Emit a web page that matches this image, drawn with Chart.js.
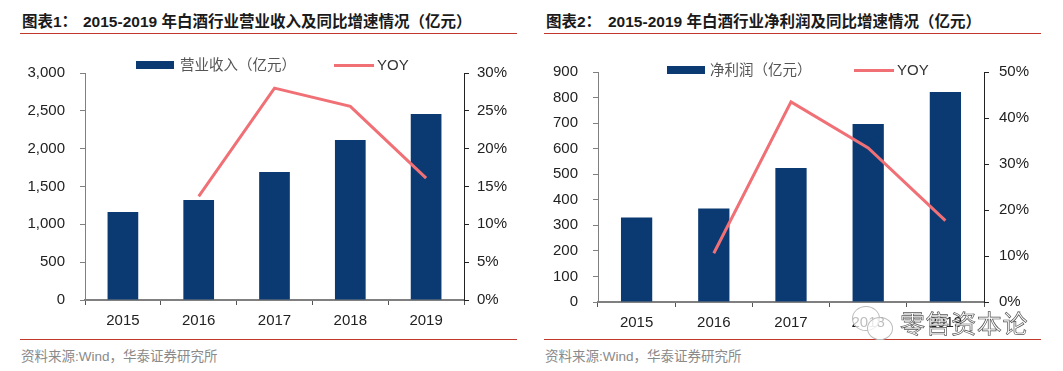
<!DOCTYPE html>
<html lang="zh">
<head>
<meta charset="UTF-8">
<title>白酒行业营业收入及净利润</title>
<script src="https://cdn.jsdelivr.net/npm/chart.js"></script>
<style>
  html, body { margin: 0; padding: 0; background: #fff; }
  body { width: 1063px; height: 371px; position: relative; overflow: hidden;
         font-family: "Liberation Sans", "Noto Sans CJK SC", sans-serif; }
  canvas { position: absolute; }
  .t { position: absolute; white-space: nowrap; }
  .title { font-size: 15.5px; font-weight: bold; color: #1a1a1a; top: 13px; line-height: 18px; }
  .rule { position: absolute; height: 1px; background: #c0392b; }
  .src { font-size: 13.5px; color: #8a8a8a; top: 349px; line-height: 16px; }
  .leg { font-size: 14.5px; color: #555; line-height: 16px; }
  .yoy { font-size: 15px; color: #333; line-height: 16px; }
  .swatch { position: absolute; height: 8px; width: 38px; background: #0b3a72; }
  .stroke { position: absolute; height: 3px; width: 40px; background: #f07076; }
  .mark { font-size: 25px; top: 309px; line-height: 30px; color: rgba(255,255,255,.8); -webkit-text-stroke: .7px #555; letter-spacing: .6px; }
  .bubble { position: absolute; border: 1px solid #bbb; border-radius: 50%; background: rgba(255,255,255,.7); }
</style>
</head>
<body>
<div class="t title" style="left:22px">图表1：</div>
<div class="t title" style="left:83px">2015-2019 年白酒行业营业收入及同比增速情况（亿元）</div>
<div class="rule" style="left:20px;width:497px;top:33px"></div>
<div class="t title" style="left:546px">图表2：</div>
<div class="t title" style="left:608px">2015-2019 年白酒行业净利润及同比增速情况（亿元）</div>
<div class="rule" style="left:544px;width:497px;top:33px"></div>

<canvas id="c1"></canvas>
<canvas id="c2"></canvas>

<div class="swatch" style="left:136px;top:61px"></div>
<div class="t leg" style="left:180px;top:57px">营业收入（亿元）</div>
<div class="stroke" style="left:334px;top:64px"></div>
<div class="t yoy" style="left:377px;top:57px">YOY</div>

<div class="swatch" style="left:667px;top:66px"></div>
<div class="t leg" style="left:710px;top:62px">净利润（亿元）</div>
<div class="stroke" style="left:854px;top:69px"></div>
<div class="t yoy" style="left:897px;top:62px">YOY</div>

<div class="rule" style="left:20px;width:497px;top:339px"></div>
<div class="rule" style="left:544px;width:497px;top:339px"></div>
<div class="t src" style="left:21px">资料来源:Wind，华泰证券研究所</div>
<div class="t src" style="left:545px">资料来源:Wind，华泰证券研究所</div>

<div class="bubble" style="left:852px;top:306px;width:26px;height:23px"></div>
<div class="bubble" style="left:867px;top:317px;width:24px;height:21px"></div>
<div class="t mark" style="left:900px">零售资本论</div>

<script>
const years = ['2015', '2016', '2017', '2018', '2019'];
const revenue = [1163, 1320, 1690, 2115, 2458];
const revenueYoy = [null, 13.7, 28.0, 25.6, 16.1];
const revenueTicks = [0, 500, 1000, 1500, 2000, 2500, 3000];
const profit = [331, 366, 524, 697, 822];
const profitYoy = [null, 10.6, 43.5, 33.5, 17.7];
const profitTicks = [0, 100, 200, 300, 400, 500, 600, 700, 800, 900];

const FONT = { family: '"Liberation Sans", sans-serif', size: 15 };

// fija el ancho del eje y quita el margen que añade la última etiqueta
function fijarEje(s, ancho) {
  s.width = ancho;
  s.paddingTop = 0;
  s.paddingBottom = 0;
}

function dibujar(id, caja, barras, yoy, leftMax, leftStep, rightMax, rightStep) {
  const canvas = document.getElementById(id);
  canvas.style.left = caja.left + 'px';
  canvas.style.top = caja.top + 'px';
  canvas.width = caja.width;
  canvas.height = caja.height;
  new Chart(canvas, {
    data: {
      labels: years,
      datasets: [
        { type: 'line', data: yoy, yAxisID: 'y1', borderColor: '#f07076', borderWidth: 3,
          pointRadius: 0, tension: 0, spanGaps: false, order: 0 },
        { type: 'bar', data: barras, yAxisID: 'y', backgroundColor: '#0b3a72',
          barPercentage: 0.405, categoryPercentage: 1, order: 1 }
      ]
    },
    options: {
      responsive: false,
      animation: false,
      layout: { padding: { top: caja.padTop, left: 0, right: 0, bottom: 0 } },
      plugins: { legend: { display: false }, tooltip: { enabled: false } },
      scales: {
        x: {
          offset: true,
          afterFit: s => { s.height = caja.xHeight; },
          grid: { offset: true, drawOnChartArea: false, drawTicks: true, tickLength: 5, color: '#555' },
          border: { color: '#808080', width: 2 },
          ticks: { color: '#222', font: FONT, padding: 7, maxRotation: 0 }
        },
        y: {
          position: 'left', min: 0, max: leftMax,
          afterFit: s => fijarEje(s, caja.leftW),
          grid: { drawOnChartArea: false, tickLength: 5, color: '#808080' },
          border: { color: '#808080', width: 1 },
          ticks: { stepSize: leftStep, color: '#222', font: FONT, padding: 15,
                   callback: v => v.toLocaleString('en-US') }
        },
        y1: {
          position: 'right', min: 0, max: rightMax,
          afterFit: s => fijarEje(s, caja.rightW),
          grid: { drawOnChartArea: false, tickLength: 5, color: '#222' },
          border: { color: '#222', width: 1 },
          ticks: { stepSize: rightStep, color: '#222', font: FONT, padding: caja.rightPad,
                   callback: v => v + '%' }
        }
      }
    }
  });
}

dibujar('c1', { left: 0, top: 50, width: 530, height: 280, padTop: 23, xHeight: 30, leftW: 85, rightW: 66, rightPad: 8 },
  revenue, revenueYoy, Math.max(...revenueTicks), 500, 30, 5);
dibujar('c2', { left: 530, top: 50, width: 530, height: 280, padTop: 22, xHeight: 28, leftW: 68, rightW: 76, rightPad: 10 },
  profit, profitYoy, Math.max(...profitTicks), 100, 50, 10);
</script>
</body>
</html>
